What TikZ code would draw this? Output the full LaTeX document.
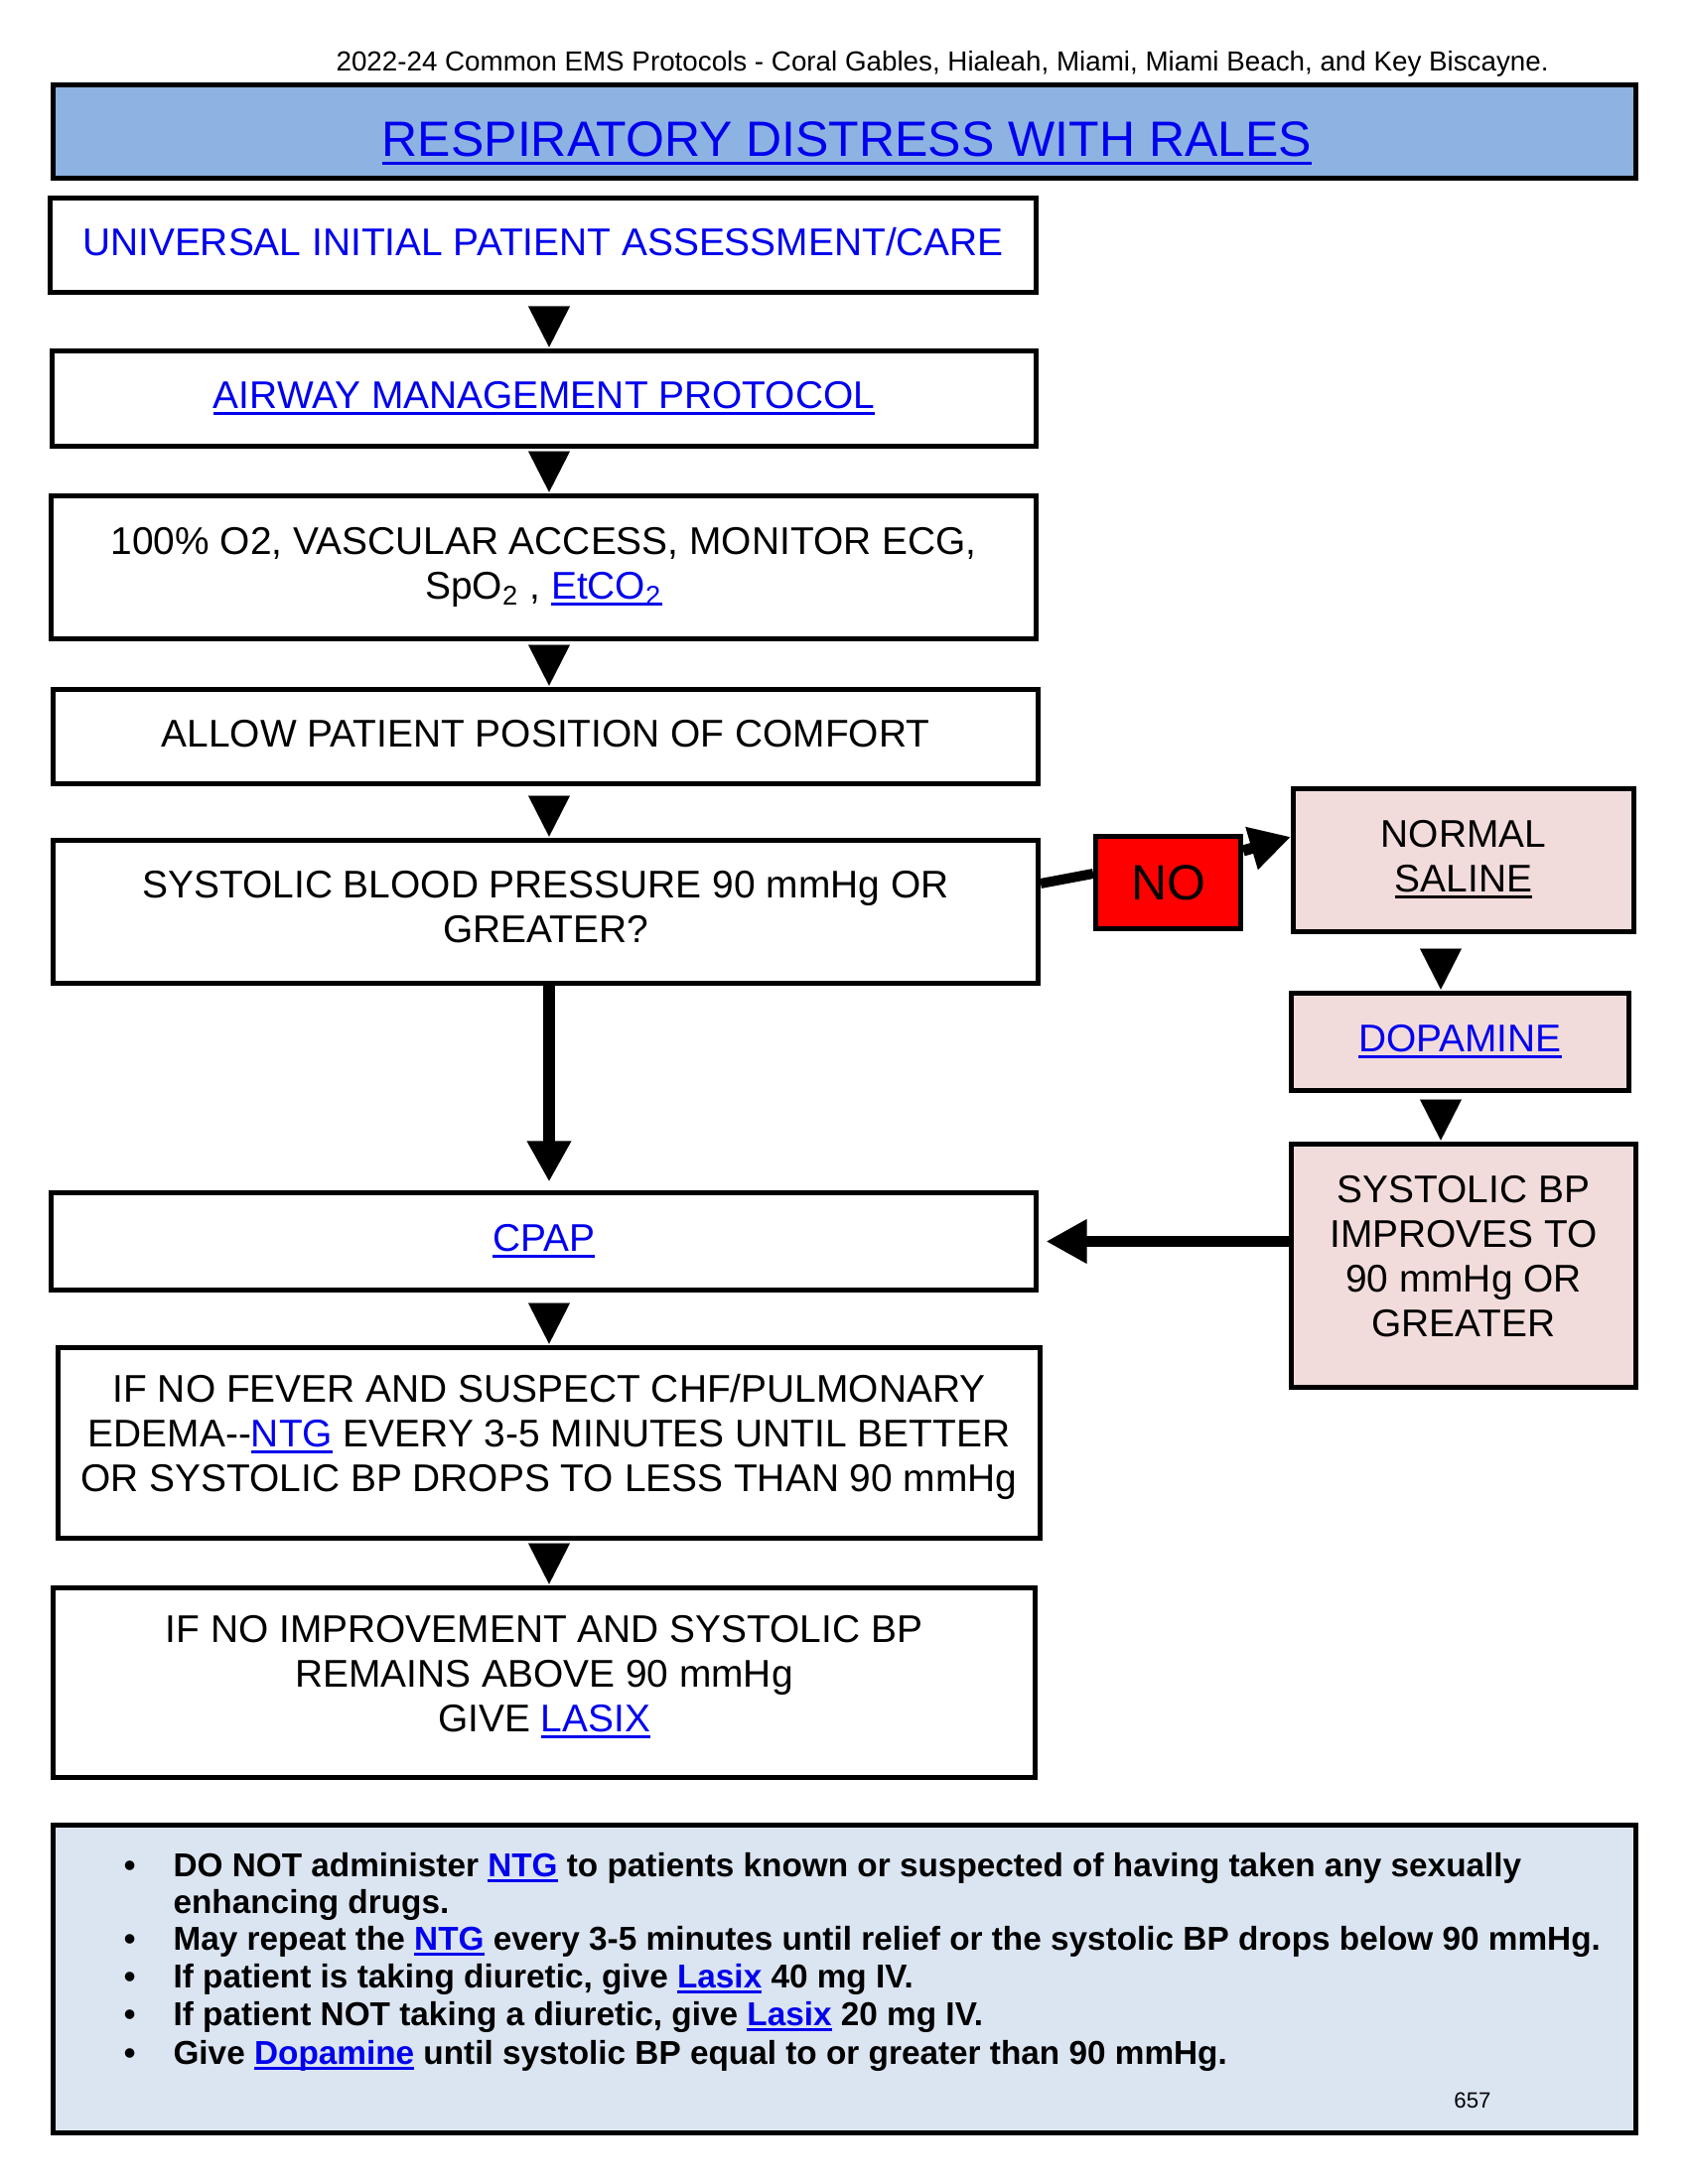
\documentclass[tikz,border=0pt]{standalone}
\usepackage{fontspec}
\setmainfont{Liberation Sans}
\usetikzlibrary{arrows.meta,calc}
\definecolor{lnkblue}{RGB}{0,0,238}
\definecolor{titlefill}{RGB}{141,179,226}
\definecolor{pinkfill}{RGB}{242,220,219}
\definecolor{notefill}{RGB}{219,229,241}
\newsavebox\ulbox
\newcommand\ulk[2][lnkblue]{{\color{#1}\sbox\ulbox{#2}\rlap{\rule[-0.17em]{\wd\ulbox}{0.075em}}\usebox\ulbox}}
\newcommand\bul{\llap{\textbullet\hspace{13.7pt}}}
\begin{document}
\begin{tikzpicture}[x=0.36pt,y=-0.36pt,
  box/.style={draw=black,line width=1.8pt,rectangle,inner sep=0pt,align=center,font=\fontsize{14}{16.2}\selectfont},
  sz/.style 2 args={minimum width=#1*0.36pt,minimum height=#2*0.36pt},
  tri/.style={draw=white,line width=0.01pt,shorten <=2pt,shorten >=0.5pt,-{Triangle[length=14.8pt,width=15.1pt,color=black]}},
  fat/.style={line width=4pt,-{Triangle[length=14.8pt,width=15.1pt]}},
  conn/.style={line width=3.6pt},
  notetxt/.style={anchor=base west,inner sep=0pt,font=\bfseries\fontsize{12}{13.8}\selectfont},
  plain/.style={inner sep=0pt,anchor=base},
]
\path[use as bounding box,fill=white] (0,0) rectangle (1700,2200);

% header
\node[plain,anchor=base west,font=\fontsize{10}{12}\selectfont] (hdr) at (338,72)
  {2022-24 Common EMS Protocols - Coral Gables, Hialeah, Miami, Miami Beach, and Key Biscayne.};

% title
\node[box,sz={1594}{94},fill=titlefill] (title) at (850.5,132.5) {};
\node[plain,font=\fontsize{18}{21}\selectfont] (titletxt) at (853,158) {\ulk{RESPIRATORY DISTRESS WITH RALES}};

% main column
\node[box,sz={993}{95},text depth=2.9pt] (b1) at (547,247) {\color{lnkblue}UNIVERSAL INITIAL PATIENT ASSESSMENT/CARE};
\node[box,sz={991}{96}] (b2) at (548,401.5) {\ulk{AIRWAY MANAGEMENT PROTOCOL}};
\node[box,sz={992}{144}] (b3) at (547.5,571.5) {100\% O2, VASCULAR ACCESS, MONITOR ECG,\\ SpO\textsubscript{2} , \ulk{EtCO\textsubscript{2}}};
\node[box,sz={992}{95},text depth=2.2pt] (b4) at (549.5,742) {ALLOW PATIENT POSITION OF COMFORT};
\node[box,sz={992}{144},text depth=3.6pt] (b5) at (549.5,918.5) {SYSTOLIC BLOOD PRESSURE 90 mmHg OR\\ GREATER?};
\node[box,sz={992}{98}] (cpap) at (547.5,1250.5) {\ulk{CPAP}};
\node[box,sz={989}{192},text depth=7.2pt] (b6) at (553,1453.5) {IF NO FEVER AND SUSPECT CHF/PULMONARY\\ EDEMA-{}-\ulk{NTG} EVERY 3-5 MINUTES UNTIL BETTER\\ OR SYSTOLIC BP DROPS TO LESS THAN 90 mmHg};
\node[box,sz={989}{191},text depth=6.7pt] (b7) at (548,1695) {IF NO IMPROVEMENT AND SYSTOLIC BP\\ REMAINS ABOVE 90 mmHg\\ GIVE \ulk{LASIX}};

% right column
\node[box,sz={146}{93},fill=red,font=\fontsize{18}{21}\selectfont] (no) at (1176.5,889) {NO};
\node[box,sz={343}{144},fill=pinkfill,text depth=3pt] (sal) at (1474,866.5) {NORMAL\\ \ulk[black]{SALINE}};
\node[box,sz={340}{98},fill=pinkfill] (dopa) at (1470.5,1049.5) {\ulk{DOPAMINE}};
\node[box,sz={347}{245},fill=pinkfill,text depth=7.2pt] (bp) at (1474,1275) {SYSTOLIC BP\\ IMPROVES TO\\ 90 mmHg OR\\ GREATER};

% notes
\node[box,sz={1594}{310},fill=notefill] (notes) at (850.5,1993.5) {};
\node[notetxt] (n1) at (174,1890) {\bul DO NOT administer \ulk{NTG} to patients known or suspected of having taken any sexually};
\node[notetxt] (n1b) at (174,1927) {enhancing drugs.};
\node[notetxt] (n2) at (174,1964) {\bul May repeat the \ulk{NTG} every 3-5 minutes until relief or the systolic BP drops below 90 mmHg.};
\node[notetxt] (n3) at (174,2002) {\bul If patient is taking diuretic, give \ulk{Lasix} 40 mg IV.};
\node[notetxt] (n4) at (174,2040) {\bul If patient NOT taking a diuretic, give \ulk{Lasix} 20 mg IV.};
\node[notetxt] (n5) at (174,2079) {\bul Give \ulk{Dopamine} until systolic BP equal to or greater than 90 mmHg.};
\node[plain,font=\fontsize{8}{10}\selectfont] (pg) at (1483,2123) {657};

% connectors
\coordinate (ax) at (553,0);
\coordinate (rx) at (1451,0);
\draw[tri] (b1.south -| ax) -- (b2.north -| ax);
\draw[tri] (b2.south -| ax) -- (b3.north -| ax);
\draw[tri] (b3.south -| ax) -- (b4.north -| ax);
\draw[tri] (b4.south -| ax) -- (b5.north -| ax);
\draw[fat,shorten >=3.1pt] (b5.south -| ax) -- (cpap.north -| ax);
\draw[tri] (cpap.south -| ax) -- (b6.north -| ax);
\draw[tri] (b6.south -| ax) -- (b7.north -| ax);
\draw[conn] ($(b5.east)+(0,-28.5)$) -- ($(no.west)+(0,-9)$);
\draw[fat] ($(no.east)+(0,-32)$) -- ($(sal.west)+(0,-23.5)$);
\draw[tri] (sal.south -| rx) -- (dopa.north -| rx);
\draw[tri] (dopa.south -| rx) -- (bp.north -| rx);
\draw[fat,shorten >=2.7pt] (cpap.east -| bp.west) -- (cpap.east);
\end{tikzpicture}
\end{document}
